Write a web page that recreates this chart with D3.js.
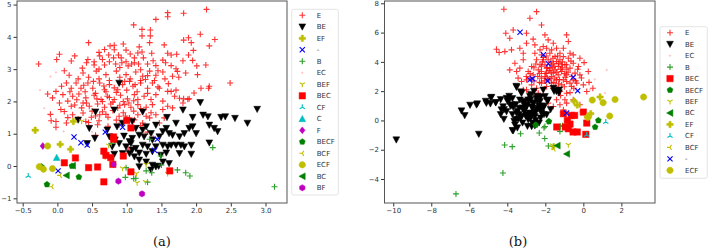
<html>
<head>
<meta charset="utf-8">
<script src="https://d3js.org/d3.v7.min.js"></script>
<style>
  body { margin: 0; background: #fff; }
  .tick text { font-family: "DejaVu Sans"; font-size: 7px; fill: #333; }
  .tick line { stroke: #333; }
  .legend text { font-family: "DejaVu Sans"; font-size: 7px; fill: #333; }
  .caption { font-family: "DejaVu Serif"; font-size: 13px; fill: #111; }
</style>
</head>
<body>
<svg id="fig" width="708" height="252"></svg>
<script>
// ---------- panel (a) data ----------
const a_E = [[2.15,4.85],[1.59,4.75],[1.59,4.62],[1.82,4.73],[1.42,4.54],[1.10,4.37],[1.22,4.23],[1.34,4.21],[1.22,4.03],[1.34,4.03],[1.33,3.82],[1.89,3.97],[1.82,3.90],[1.93,3.82],[2.06,4.08],[2.27,3.92],[2.19,3.72],[0.45,3.82],[0.95,3.78],[0.76,3.72],[0.82,3.74],[0.68,3.61],[0.82,3.60],[1.18,3.69],[0.99,3.59],[1.54,3.75],[0.03,3.46],[-0.01,3.30],[0.25,3.41],[0.20,3.25],[-0.27,3.16],[0.44,3.30],[0.42,3.20],[0.61,3.41],[0.65,3.30],[0.74,3.44],[0.81,3.35],[0.88,3.44],[1.05,3.47],[1.11,3.35],[1.16,3.50],[1.22,3.53],[1.36,3.49],[1.59,3.49],[1.64,3.44],[1.72,3.46],[1.52,3.28],[1.38,3.26],[1.24,3.35],[0.53,3.23],[0.53,3.13],[0.68,3.13],[0.75,3.23],[0.84,3.16],[0.93,3.20],[0.99,3.23],[1.07,3.16],[1.11,3.20],[1.17,3.16],[1.30,3.16],[1.42,3.11],[1.81,3.26],[1.95,3.27],[1.96,3.58],[1.89,3.44],[2.14,3.13],[2.01,3.10],[1.56,3.20],[1.64,3.11],[0.36,3.03],[1.71,3.01],
  [0.17,2.81],[0.37,2.88],[0.56,2.94],[0.70,2.83],[0.85,2.94],[0.99,2.83],[1.13,2.91],[1.23,2.78],[1.33,2.94],[1.42,2.81],[1.52,2.91],[1.66,2.78],[1.73,2.93],[1.85,2.88],[2.02,2.83],[2.49,2.57],[2.19,2.47],[2.07,2.41],[1.97,2.26],[1.90,2.08],[1.82,2.08],[1.69,2.16],[1.71,2.35],[1.59,2.31],[1.47,2.41],[1.37,2.57],[1.30,2.41],[1.20,2.57],[1.09,2.47],[1.04,2.62],[0.94,2.52],[0.87,2.36],[0.75,2.52],[0.68,2.36],[0.61,2.57],[0.51,2.41],[0.44,2.57],[0.34,2.41],[0.27,2.57],[0.20,2.41],[0.13,2.57],[0.06,2.47],[-0.02,2.31],[-0.14,2.23],[-0.07,2.11],[0.08,2.21],[0.22,2.16],[0.31,2.23],[0.41,2.11],[0.53,2.19],[0.63,2.06],[0.72,2.16],[0.82,2.06],[0.91,2.19],[1.01,2.08],[1.11,2.21],[1.16,2.06],[1.25,2.16],[1.35,2.06],[1.42,2.21],[1.52,2.01],[0.03,1.95],[0.15,2.01],[0.25,1.89],[0.37,1.95],[0.46,1.85],[0.58,1.92],[0.68,1.82],[0.77,1.92],[0.87,1.80],[0.97,1.90],[1.06,1.82],[1.16,1.90],[1.28,1.82],[1.37,1.90],[0.10,1.69],[0.22,1.59],[0.37,1.64],[0.49,1.51],[0.61,1.59],[0.73,1.51],[0.89,1.54],[1.04,1.49],[1.16,1.59],[1.28,1.54],[1.42,1.59],[-0.02,1.38],[0.13,1.33],[0.41,1.38],[-0.09,1.40],[-0.02,1.20],[0.58,1.28],[0.73,1.23],[0.89,1.28],[1.11,1.43],[1.23,1.33],[1.33,1.49],[1.47,1.33],[1.54,1.49],[1.66,1.80],[1.81,1.95],[1.59,1.85],[1.52,1.75],
  [2.18,2.41],[1.76,2.10],[1.88,2.07],[1.64,2.31],
  [0.60,2.70],[0.75,2.65],[0.90,2.75],[1.05,2.70],[1.20,2.65],[0.45,2.75],[0.30,2.70],[0.55,2.25],[0.70,2.30],[0.85,2.28],[1.00,2.35],[1.15,2.30],[1.30,2.25],[0.40,2.30],[0.65,2.00],[0.80,1.98],[0.95,2.00],[1.10,2.02],[0.50,1.70],[0.65,1.68],[0.80,1.72],[0.95,1.65],[1.10,1.70],[0.35,1.80],[0.20,1.85],[0.05,1.75],[0.30,1.45],[0.15,1.50],[-0.10,1.60],[0.45,1.35],[0.60,1.40],[1.00,1.45],[1.20,1.25],[1.45,2.45],[1.60,2.55],[1.55,2.70],[1.30,2.80],[0.10,2.95],[0.60,3.00],[0.90,3.05],[1.20,2.98],[1.45,2.95],[1.75,2.75],
  [0.52,2.62],[0.67,2.48],[0.82,2.42],[0.97,2.62],[1.12,2.52],[1.27,2.68],[0.38,2.50],[0.57,2.08],[0.75,2.12],[0.90,1.88],[1.03,1.95],[1.20,1.78],[0.42,1.95],[0.28,2.05],[0.55,1.55],[0.70,1.60],[0.85,1.42],[0.98,1.55],[1.35,1.65],[0.18,2.30],[1.40,2.65],[0.92,3.35],[0.60,3.52],[1.02,3.10],
  [1.38,0.85],[1.02,0.52],[1.30,1.05],[0.55,0.95]];
const a_BE = [[0.89,2.57],[2.06,1.97],[2.88,1.76],[0.55,1.68],[0.82,1.74],[1.23,1.68],[0.30,1.43],[1.58,1.51],[1.81,1.74],[1.95,1.51],[2.10,1.58],[2.17,1.53],[2.36,1.51],[2.42,1.53],[2.56,1.48],[2.74,1.33],[0.46,1.17],[0.72,1.12],[0.86,1.22],[0.94,1.33],[1.08,1.38],[1.13,1.17],[1.28,1.22],[1.42,1.27],[1.57,1.17],[1.71,1.33],[1.90,1.17],[1.95,1.22],[2.19,1.27],[2.26,1.17],[2.31,1.07],[0.54,0.86],[0.43,0.70],[0.75,0.91],[0.83,0.81],[0.96,0.93],[1.04,0.76],[1.08,0.86],[1.18,0.96],[1.25,0.91],[1.35,1.01],[1.47,0.91],[1.52,1.07],[1.61,1.01],[1.66,0.96],[1.76,0.91],[1.83,1.01],[2.00,1.01],[2.19,0.72],[0.79,0.60],[0.89,0.70],[0.99,0.60],[1.06,0.70],[1.13,0.55],[1.23,0.65],[1.30,0.60],[1.42,0.60],[1.52,0.65],[1.59,0.60],[1.64,0.65],[1.71,0.65],[1.78,0.65],[1.83,0.60],[1.93,0.65],[0.82,0.37],[1.04,0.39],[1.08,0.50],[1.18,0.41],[1.28,0.37],[1.37,0.45],[1.49,0.34],[1.57,0.41],[1.76,0.39],[1.93,0.37],[1.18,0.19],[1.28,0.13],[1.37,0.03],[1.52,0.13],[1.61,0.08],[1.42,-0.02],[1.35,-0.12],[1.46,0.00],[1.18,-0.02],[1.11,0.29],[0.94,0.39],[1.23,1.12],[1.37,0.81]];
const a_EF = [[-0.32,1.11],[0.04,0.67],[0.19,0.52],[0.23,1.38]];
const a_minus = [[0.24,0.90],[0.34,0.72],[0.43,0.65],[0.01,-0.15],[1.40,0.49],[1.44,0.83],[0.69,1.05],[0.94,1.20]];
const a_B = [[2.24,0.57],[3.13,-0.64],[0.99,-0.05],[0.98,-0.35],[1.10,-0.39],[1.28,-0.15],[1.30,-0.50],[1.36,-0.21],[1.73,-0.12],[1.85,-0.21],[1.91,-0.31],[1.50,0.03],[1.49,0.31],[1.33,0.83],[1.13,-0.38],[0.78,0.70]];
const a_EC = [[-0.02,2.90],[-0.19,1.79],[-0.12,1.58],[0.09,1.07],[-0.10,2.77],[-0.25,2.35],[0.50,1.05],[1.25,1.00]];
const a_BEF = [[0.35,1.39],[1.28,0.05],[1.15,-0.52],[1.27,-0.49],[1.59,-0.23],[0.94,-0.07],[0.69,0.29],[1.14,-0.23],[0.74,0.64]];
const a_BEC = [[1.00,1.41],[1.06,1.18],[0.81,0.90],[0.81,0.83],[0.67,0.46],[0.70,0.33],[0.77,0.26],[0.95,0.31],[0.10,0.10],[0.26,0.25],[0.45,-0.05],[0.58,-0.03],[1.06,-0.18],[0.67,-0.49],[1.62,-0.15],[0.80,0.05]];
const a_CF = [[-0.42,-0.31]];
const a_C = [[-0.01,0.26]];
const a_F = [[-0.21,0.62],[0.81,0.05]];
const a_BECF = [[-0.15,-0.57],[-0.23,-0.02],[0.31,-0.34],[0.21,0.00]];
const a_BCF = [[-0.08,-0.64],[0.04,-0.29]];
const a_ECF = [[-0.14,0.62],[-0.20,-0.10],[-0.07,-0.08],[-0.26,-0.02]];
const a_BC = [[0.13,-0.29],[0.22,0.01]];
const a_BF = [[1.22,-0.86],[0.88,-0.47]];

// ---------- panel (b) data ----------
const b_E = [[-4.18,7.59],[-2.81,6.98],[-2.46,7.43],[-2.20,6.52],[-4.08,5.95],[-3.69,6.18],[-3.87,5.61],[-2.99,5.95],[-2.64,5.55],[-2.02,5.84],[-1.85,5.50],[-1.58,5.27],[-0.88,5.84],[-0.79,5.39],[-4.57,4.86],[-4.43,4.64],[-4.13,4.70],[-3.78,4.82],[-3.34,4.93],[-3.16,4.59],[-2.99,5.27],[-2.55,5.16],[-2.28,4.82],[-2.11,5.05],[-1.93,4.93],[-1.67,4.82],[-1.41,4.93],[-1.05,4.93],[-0.70,4.59],[-0.53,4.48],[-0.18,4.25],[0.04,3.95],[-0.26,3.68],[0.26,3.34],[-0.18,3.11],[-0.53,2.77],[-0.88,2.66],[0.00,2.43],[0.18,1.98],[-1.14,2.43],[-1.41,1.41],[-1.23,1.07],[-1.05,0.73],[-0.97,1.41],[-1.58,0.95],[-1.85,1.18],[-3.87,3.45],[-3.51,3.34],[-3.60,3.91],[-3.16,4.14],[-3.25,2.66],[-2.99,2.77],[-2.64,3.11],[-2.72,3.68],[-2.46,4.14],[-2.28,3.80],[-2.20,3.34],[-2.02,3.00],[-1.93,3.57],[-1.85,4.14],[-1.67,3.80],[-1.58,3.23],[-1.41,2.77],[-1.32,3.68],[-1.23,4.14],[-1.14,3.34],[-0.97,3.80],[-0.88,3.11],[-0.79,4.25],[-0.70,3.57],[-0.53,3.91],[-0.44,3.23],[-0.35,2.55],[-0.62,2.32],[-0.88,1.86],[-1.23,1.98],[-1.67,2.55],[-1.93,2.32],[-2.20,2.55],[-2.46,2.20],[-2.72,2.43],[-2.99,2.09],[-3.16,2.09],[-3.43,2.89],[-3.34,3.57],[-2.90,3.34],[-2.55,4.59],[-2.20,4.48],[-1.76,4.59],[-1.49,4.36],[-1.23,4.59],[-1.05,4.36],[-1.32,3.11],[-1.05,2.77],[-2.02,3.80],[-1.76,3.57],[-1.49,3.45],[-2.11,4.14],[-2.37,3.45],[-0.88,3.80],[-0.70,2.55],[-2.81,2.89],[-1.85,2.77],[-1.58,3.91],[-1.41,4.02],[-1.14,3.80],[-1.67,3.00],[-2.20,2.89],[-1.93,3.23],[-0.88,1.18],[-0.53,1.41],[-0.18,1.07],[-2.99,1.18],[-2.72,1.75],[-2.37,1.86],
  [-2.00,3.20],[-1.80,3.40],[-1.60,3.60],[-1.40,3.30],[-1.20,3.50],[-1.00,3.20],[-2.20,3.70],[-2.40,3.00],[-1.90,2.90],[-1.50,2.90],[-1.30,2.50],[-1.70,4.00],[-2.10,4.30],[-1.10,4.00],[-0.90,3.50],[-0.60,3.00],[-0.40,2.70],[-2.60,3.60],[-2.80,3.20],[-3.00,3.00],[-2.30,2.60],[-1.60,2.20],[-1.00,2.30],[-0.70,1.90],[-0.50,2.20],[-1.20,1.70],[-0.30,3.50],[-0.10,2.90],[0.30,2.60],[0.50,2.20],
  [-1.90,3.60],[-1.70,3.30],[-1.50,3.70],[-1.30,3.90],[-1.10,3.60],[-0.95,2.95],[-1.25,2.80],[-1.55,2.60],[-1.75,2.85],[-2.05,2.70],[-2.30,3.20],[-2.50,3.85],[-2.15,4.00],[-1.95,4.40],[-1.60,4.25],[-1.35,4.40],[-0.80,3.30],[-0.65,4.05],[-1.45,2.35],[-2.60,2.70]];
const b_BE = [[-9.84,-1.32],[-6.41,0.66],[-6.24,0.34],[-5.62,1.07],[-5.50,-0.93],[-5.10,1.18],[-4.89,1.14],[-4.83,1.59],[-4.61,1.23],[-4.22,0.95],[-4.18,0.09],[-4.04,0.61],[-3.90,1.41],[-3.73,1.50],[-3.69,0.91],[-3.60,-0.30],[-3.69,-0.70],[-3.51,0.50],[-3.37,0.84],[-3.34,1.41],[-3.25,1.86],[-3.16,1.18],[-3.08,0.73],[-2.99,0.39],[-2.90,1.41],[-2.81,1.64],[-2.72,0.95],[-2.64,0.50],[-2.64,1.18],[-2.55,0.27],[-2.46,1.52],[-2.37,0.84],[-2.28,1.30],[-2.20,0.50],[-2.11,2.09],[-2.02,1.64],[-3.51,2.27],[-2.90,0.05],[-2.72,-0.41],[-2.55,-0.36],[-1.93,0.39],[-2.20,1.00],[-1.85,1.41],[-1.58,2.20],[-1.41,1.98],[-1.27,2.09],[-2.99,0.95],[-3.25,0.27],[-3.78,1.07],[-4.31,0.73],[-3.43,0.09],[-2.81,0.39],[-2.46,0.73],[-2.11,0.84],[-4.04,1.52],
  [-3.53,2.34],[-3.29,1.96],[-2.77,1.77],[-2.42,1.32],[-2.25,1.60],[-4.87,1.55],[-5.14,1.32],[-4.61,1.21],[-5.58,1.14],[-5.96,1.05],[-4.35,1.43],[-3.99,1.32],[-3.82,0.98],[-4.17,0.75],[-4.35,0.41],[-3.73,0.41],[-3.47,0.64],[-3.20,0.86],[-2.94,1.09],[-2.68,0.86],[-2.51,0.59],[-2.25,0.75],[-2.07,0.98],[-1.89,1.32],[-1.54,2.00],[-1.28,1.89],[-3.55,0.07],[-3.29,0.18],[-3.03,0.30],[-2.77,0.18],[-2.51,0.00],[-2.25,0.18],[-3.20,-0.16],[-3.64,-0.05],[-3.73,-0.68],[-3.47,-0.50],[-2.94,-0.39],[-2.33,-0.16],[-2.07,0.41],[-1.72,0.75],[-3.12,1.32],[-2.77,1.43],[-3.90,1.66],[-2.60,2.00],[-2.42,1.66],[-2.85,0.52],[-3.12,0.64],[-2.60,1.21],[-2.33,0.98],[-3.55,1.09],[-3.38,0.41],[-2.68,-0.16]];
const b_EC = [[1.23,3.45],[1.14,1.86],[0.35,2.09],[0.60,2.80],[-0.20,0.60]];
const b_B = [[-3.30,-0.91],[-4.14,-1.68],[-3.74,-1.79],[-4.23,-3.59],[-6.70,-5.02],[-2.32,-0.86],[-2.03,-1.23],[-1.84,-1.75],[-1.85,-0.07],[-2.02,-0.41],[-1.23,-0.75],[-1.09,-0.36],[-1.58,-1.77],[-2.07,-0.50],[-1.21,-0.39]];
const b_BEC = [[-1.05,0.46],[-0.84,0.00],[-0.63,0.34],[-0.46,0.34],[0.00,0.57],[-1.40,-0.45],[-0.95,-0.45],[-0.54,-0.79],[-0.32,-0.79],[0.13,-0.95],[-0.70,-0.25],[0.18,-0.18],[-0.79,-0.57]];
const b_BECF = [[0.79,0.00],[0.62,-0.45],[-2.51,-0.31],[-1.81,-0.07]];
const b_BEF = [[-1.62,-1.70],[-0.79,-1.66],[-1.63,-1.84]];
const b_BC = [[-1.37,-1.72],[-0.87,-2.29]];
const b_EF = [[-0.49,1.32],[-0.32,1.05],[0.88,1.60],[0.39,0.46],[0.21,0.23]];
const b_CF = [[1.18,-0.11],[0.18,-1.00]];
const b_BCF = [[-1.55,-1.95]];
const b_minus = [[-3.33,6.02],[-2.10,4.48],[-1.84,3.87],[-2.81,2.77],[-2.67,2.84],[-1.88,2.70],[-0.53,2.95],[-0.30,2.02],[-0.88,0.50]];
const b_ECF = [[0.47,1.39],[1.04,1.21],[1.67,1.43],[3.17,1.60],[1.39,0.30],[0.26,0.23]];

// legend order = plotting order
const a_groups = [["E",a_E],["BE",a_BE],["EF",a_EF],["-",a_minus],["B",a_B],["EC",a_EC],["BEF",a_BEF],["BEC",a_BEC],["CF",a_CF],["C",a_C],["F",a_F],["BECF",a_BECF],["BCF",a_BCF],["ECF",a_ECF],["BC",a_BC],["BF",a_BF]];
const b_groups = [["E",b_E],["BE",b_BE],["EC",b_EC],["B",b_B],["BEC",b_BEC],["BECF",b_BECF],["BEF",b_BEF],["BC",b_BC],["EF",b_EF],["CF",b_CF],["BCF",b_BCF],["-",b_minus],["ECF",b_ECF]];

const a_xticks = [-0.5, 0, 0.5, 1, 1.5, 2, 2.5, 3];
const a_yticks = [-1, 0, 1, 2, 3, 4, 5];
const b_xticks = [-10, -8, -6, -4, -2, 0, 2];
const b_yticks = [-4, -2, 0, 2, 4, 6, 8];

// marker styles per label
const styles = {
  "E":    { m: "+", c: "#ff0000", o: 0.8, s: 3 },
  "BE":   { m: "v", c: "#000000", s: 3.4 },
  "EF":   { m: "P", c: "#bfbf00", s: 3.2 },
  "-":    { m: "x", c: "#0000ff", s: 2.6 },
  "B":    { m: "+", c: "#2ca02c", s: 3 },
  "EC":   { m: ".", c: "#ff6060", o: 0.4, s: 0.8 },
  "BEF":  { m: "1", c: "#bfbf00", s: 3 },
  "BEC":  { m: "s", c: "#ff0000", s: 3.2 },
  "CF":   { m: "2", c: "#00bfbf", s: 3 },
  "C":    { m: "^", c: "#00bfbf", s: 3.4 },
  "F":    { m: "D", c: "#bf00bf", s: 3.4 },
  "BECF": { m: "p", c: "#008000", s: 3.1 },
  "BCF":  { m: "3", c: "#bfbf00", s: 3 },
  "ECF":  { m: "o", c: "#bfbf00", s: 3.2 },
  "BC":   { m: "<", c: "#008000", s: 3.4 },
  "BF":   { m: "h", c: "#bf00bf", s: 3.1 }
};

const stroked = new Set(["+", "x", "1", "2", "3"]);

function poly(n, r, rot) {
  let pts = [];
  for (let i = 0; i < n; i++) {
    const a = rot + i * 2 * Math.PI / n;
    pts.push([r * Math.sin(a), -r * Math.cos(a)]);
  }
  return "M" + pts.map(p => p[0].toFixed(2) + "," + p[1].toFixed(2)).join("L") + "Z";
}

function markerPath(m, s) {
  const t = s * 0.34;
  switch (m) {
    case "+": return `M${-s},0H${s}M0,${-s}V${s}`;
    case "x": return `M${-s},${-s}L${s},${s}M${-s},${s}L${s},${-s}`;
    case "v": return `M${-s},${-s * 0.85}L${s},${-s * 0.85}L0,${s}Z`;
    case "^": return `M${-s},${s * 0.85}L${s},${s * 0.85}L0,${-s}Z`;
    case "<": return `M${s * 0.85},${-s}L${s * 0.85},${s}L${-s},0Z`;
    case "s": return `M${-s},${-s}H${s}V${s}H${-s}Z`;
    case "D": return `M0,${-s}L${s * 0.8},0L0,${s}L${-s * 0.8},0Z`;
    case "o": return poly(24, s, 0);
    case "h": return poly(6, s, 0);
    case "p": return poly(5, s, 0);
    case ".": return poly(10, s, 0);
    case "P": return `M${-t},${-s}H${t}V${-t}H${s}V${t}H${t}V${s}H${-t}V${t}H${-s}V${-t}H${-t}Z`;
    case "1": return `M0,0V${s}M0,0L${-s * 0.87},${-s * 0.5}M0,0L${s * 0.87},${-s * 0.5}`;
    case "2": return `M0,0V${-s}M0,0L${-s * 0.87},${s * 0.5}M0,0L${s * 0.87},${s * 0.5}`;
    case "3": return `M0,0H${-s}M0,0L${s * 0.5},${-s * 0.87}M0,0L${s * 0.5},${s * 0.87}`;
  }
}

function drawMarker(sel, label) {
  const st = styles[label];
  const p = sel.append("path").attr("d", markerPath(st.m, st.s));
  if (stroked.has(st.m)) {
    p.attr("fill", "none").attr("stroke", st.c).attr("stroke-width", 1.1);
  } else {
    p.attr("fill", st.c).attr("stroke", st.c).attr("stroke-width", 0.5);
  }
  if (st.o) p.attr("opacity", st.o);
  return p;
}

const svg = d3.select("#fig");

function panel(cfg) {
  const x = d3.scaleLinear().domain(cfg.xdom).range([cfg.left, cfg.right]);
  const y = d3.scaleLinear().domain(cfg.ydom).range([cfg.bottom, cfg.top]);
  const g = svg.append("g");

  g.append("g")
    .attr("transform", `translate(0,${cfg.bottom})`)
    .call(d3.axisBottom(x).tickValues(cfg.xticks).tickFormat(cfg.xfmt).tickSize(3.5).tickPadding(2))
    .call(a => a.select(".domain").remove());
  g.append("g")
    .attr("transform", `translate(${cfg.left},0)`)
    .call(d3.axisLeft(y).tickValues(cfg.yticks).tickFormat(d3.format("d")).tickSize(3.5).tickPadding(2))
    .call(a => a.select(".domain").remove());

  const pts = g.append("g");
  cfg.groups.forEach(([label, data]) => {
    data.forEach(d => {
      const m = pts.append("g").attr("transform", `translate(${x(d[0])},${y(d[1])})`);
      drawMarker(m, label);
    });
  });

  g.append("rect")
    .attr("x", cfg.left).attr("y", cfg.top)
    .attr("width", cfg.right - cfg.left).attr("height", cfg.bottom - cfg.top)
    .attr("fill", "none").attr("stroke", "#555").attr("stroke-width", 1);

  // legend
  const lg = svg.append("g").attr("class", "legend");
  const L = cfg.legend;
  lg.append("rect")
    .attr("x", L.x).attr("y", L.y).attr("width", L.w).attr("height", L.h)
    .attr("rx", 2).attr("fill", "#fff").attr("stroke", "#ddd").attr("stroke-width", 0.8);
  cfg.groups.forEach(([label], i) => {
    const yy = L.first + i * L.step;
    const m = lg.append("g").attr("transform", `translate(${L.mx},${yy})`);
    drawMarker(m, label);
    lg.append("text").attr("x", L.tx).attr("y", yy).attr("dy", "0.35em").text(label);
  });

  svg.append("text").attr("class", "caption")
    .attr("x", cfg.capx).attr("y", 246).attr("text-anchor", "middle").text(cfg.caption);
}

panel({
  left: 17, right: 287, top: 1, bottom: 203,
  xdom: [-0.582, 3.31], ydom: [-1.145, 5.11],
  xticks: a_xticks, yticks: a_yticks, xfmt: d3.format(".1f"),
  groups: a_groups,
  legend: { x: 291.7, y: 9.3, w: 46.6, h: 185.7, first: 15.3, step: 11.5, mx: 302.3, tx: 316.7 },
  capx: 162, caption: "(a)"
});

panel({
  left: 384.5, right: 655, top: 1, bottom: 203,
  xdom: [-10.46, 3.77], ydom: [-5.64, 8.157],
  xticks: b_xticks, yticks: b_yticks, xfmt: d3.format("d"),
  groups: b_groups,
  legend: { x: 660, y: 26.7, w: 47.3, h: 151.6, first: 32.7, step: 11.47, mx: 670, tx: 685 },
  capx: 518, caption: "(b)"
});
</script>
</body>
</html>
